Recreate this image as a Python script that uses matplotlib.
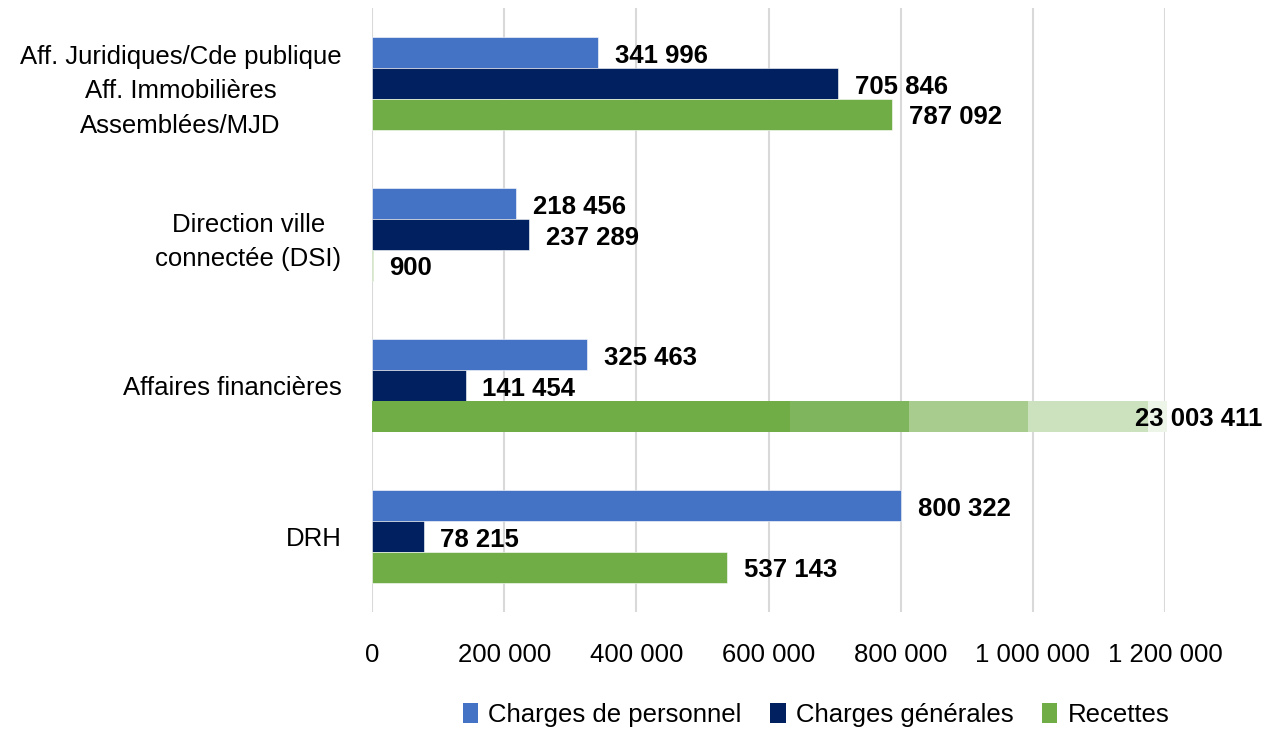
import numpy as np
import matplotlib.pyplot as plt
from matplotlib.patches import Patch

plt.rcParams['font.family'] = ['Liberation Sans', 'DejaVu Sans']

categories = ['Aff. Juridiques/Cde publique\nAff. Immobilières\nAssemblées/MJD',
              'Direction ville\nconnectée (DSI)',
              'Affaires financières',
              'DRH']
series_names = ['Charges de personnel', 'Charges générales', 'Recettes']
charges_personnel = [341996, 218456, 325463, 800322]
charges_generales = [705846, 237289, 141454, 78215]
recettes = [787092, 900, 23003411, 537143]
xmax = 1200000
ticks = np.arange(0, xmax + 1, 200000)

colors = ['#4472C4', '#002060', '#70AD47']
# fading for the bar that runs past the axis
fade_stops = [0.0, 0.527, 0.677, 0.827, 0.978, 1.003]
fade_colors = ['#70AD47', '#7FB55C', '#A8CC8E', '#CCE2BE', '#EDF4E8']

fs = 18.5


def fmt(v):
    return f"{v:,}".replace(',', ' ')


fig = plt.figure(figsize=(12.68, 7.29), dpi=100)
ax = fig.add_axes([0.2934, 0.1605, 0.6254, 0.8285])

y = np.arange(len(categories))
h = 0.205
all_series = [charges_personnel, charges_generales, recettes]

for i, (vals, col) in enumerate(zip(all_series, colors)):
    pos = y + (i - 1) * h
    for yy, v in zip(pos, vals):
        if v > xmax:
            for k in range(len(fade_colors)):
                a = fade_stops[k] * xmax
                b = fade_stops[k + 1] * xmax
                ax.barh(yy, b - a, left=a, height=h, color=fade_colors[k],
                        edgecolor='none', clip_on=False)
            ax.text(0.962 * xmax, yy + 0.02, fmt(v), ha='left', va='center',
                    fontsize=fs, fontweight='bold', clip_on=False)
        else:
            ax.barh(yy, v, height=h, color=col, edgecolor='white', linewidth=0.4)
            ax.annotate(fmt(v), xy=(v, yy + 0.02), xytext=(12, 0),
                        textcoords='offset points', ha='left', va='center',
                        fontsize=fs, fontweight='bold')

ax.set_xlim(0, xmax)
ax.set_ylim(len(categories) - 0.5, -0.5)
ax.set_xticks(ticks)
ax.set_xticklabels([fmt(t) for t in ticks], fontsize=fs)
ax.set_yticks(y)
ax.set_yticklabels(categories, fontsize=fs)
for lab in ax.get_yticklabels():
    lab.set_multialignment('center')
    lab.set_linespacing(1.55)
ax.tick_params(axis='x', length=0, pad=22)
ax.tick_params(axis='y', length=0, pad=22)
ax.xaxis.grid(True, color='#D9D9D9', linewidth=1.5)
ax.set_axisbelow(True)
for s in ax.spines.values():
    s.set_visible(False)

handles = [Patch(facecolor=c) for c in colors]
fig.legend(handles, series_names, loc='center', bbox_to_anchor=(0.6435, 0.019),
           ncol=3, frameon=False, fontsize=fs, handlelength=0.6, handleheight=0.8,
           handletextpad=0.4, columnspacing=1.1)

fig.savefig('out.png', dpi=100)
